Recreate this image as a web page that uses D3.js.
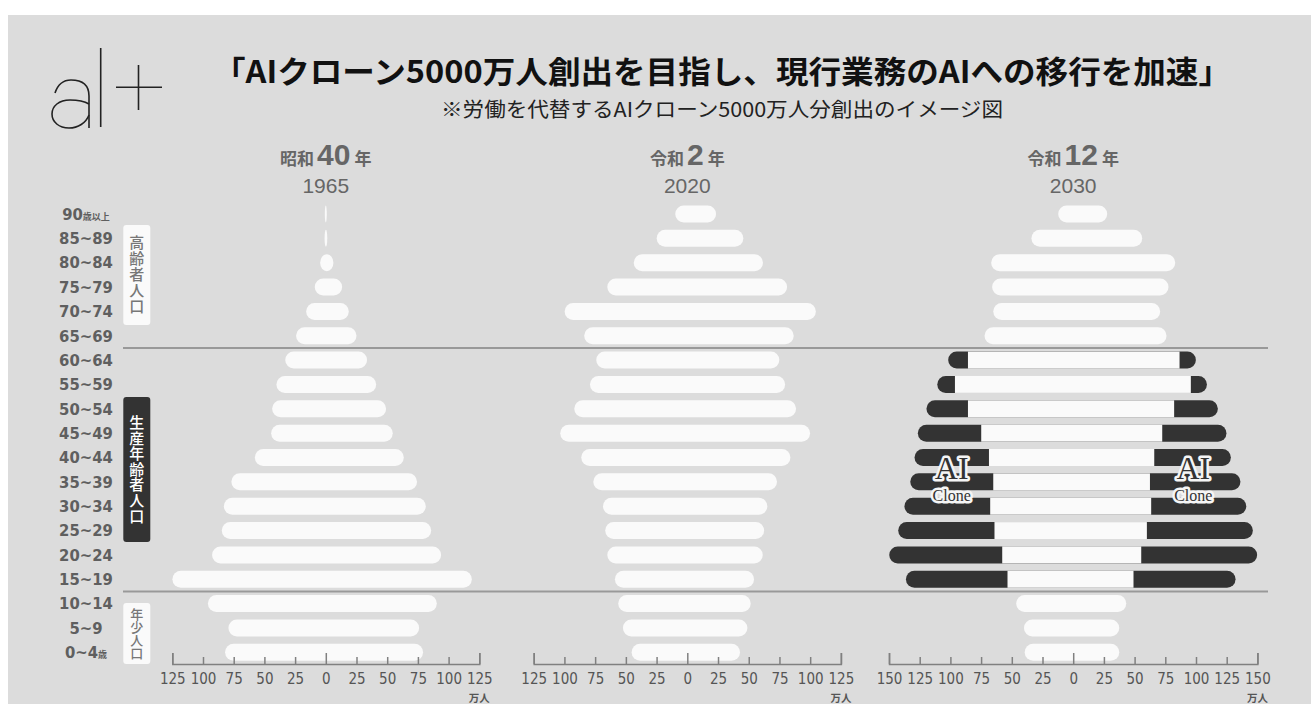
<!DOCTYPE html>
<html>
<head>
<meta charset="utf-8">
<title>AIクローン 人口ピラミッド</title>
<script src="https://d3js.org/d3.v7.min.js"></script>
<style>
  body{margin:0;background:#fff;}
  svg{display:block;}
</style>
</head>
<body>
<svg width="1311" height="704"></svg>
<script>
// 年齢階級（上から）
const ages = ["90歳以上","85~89","80~84","75~79","70~74","65~69","60~64","55~59","50~54","45~49",
              "40~44","35~39","30~34","25~29","20~24","15~19","10~14","5~9","0~4歳"];

// 万人（左・右）
const left1965  = [0.8,1.0,4.6,9.0,16.0,24.2,33.0,40.2,43.7,44.5,57.8,76.9,83.0,84.7,92.6,124.9,96.0,79.3,82.0];
const right1965 = [0.8,1.2,6.2,13.3,18.7,25.0,33.6,41.0,49.1,54.5,63.5,74.3,81.4,85.8,93.9,118.9,90.4,76.0,79.2];

const left2020  = [9.8,24.9,43.6,65.1,99.8,83.9,74.1,79.2,92.0,103.4,86.3,76.5,68.6,66.8,65.1,58.9,56.2,52.4,45.3];
const right2020 = [23.4,45.6,61.6,81.2,104.6,86.6,74.9,79.6,88.5,99.9,83.9,73.0,65.1,62.5,61.4,54.3,51.6,48.9,42.9];

const left2030  = [12.2,34.0,66.8,66.0,65.1,72.2,85.7,96.3,85.7,74.9,68.6,65.1,67.6,64.1,57.8,53.5,46.4,40.1,39.5];
const right2030 = [27.7,56.2,83.1,77.6,70.8,76.0,86.6,95.8,82.2,72.5,66.0,62.5,63.5,60.0,55.4,49.1,43.2,37.5,37.5];
// AIクローン分（生産年齢人口に上乗せ）
const cloneL2030 = [0,0,0,0,0,0,16.1,14.4,33.8,51.6,60.6,67.6,69.8,78.4,92.0,82.7,0,0,0];
const cloneR2030 = [0,0,0,0,0,0,13.3,13.1,35.6,52.3,62.4,73.7,77.4,86.3,94.4,83.1,0,0,0];

const ticks125 = [-125,-100,-75,-50,-25,0,25,50,75,100,125];
const ticks150 = [-150,-125,-100,-75,-50,-25,0,25,50,75,100,125,150];

const title = "「AIクローン5000万人創出を目指し、現行業務のAIへの移行を加速」";
const subtitle = "※労働を代替するAIクローン5000万人分創出のイメージ図";

const JP = "'Noto Sans CJK JP', sans-serif";
const NARROW = "'Liberation Sans Narrow', 'DejaVu Sans Condensed', sans-serif";
const SANS = "'Liberation Sans', Arial, sans-serif";

const panels = [
  {era:"昭和", num:"40", year:"1965", left:left1965, right:right1965, ticks:ticks125, range:[172.3,479.3]},
  {era:"令和", num:"2",  year:"2020", left:left2020, right:right2020, ticks:ticks125, range:[533.7,840.9]},
  {era:"令和", num:"12", year:"2030", left:left2030, right:right2030, cloneL:cloneL2030, cloneR:cloneR2030,
   ticks:ticks150, range:[889,1257.4]}
];

const svg = d3.select("svg");
svg.append("rect").attr("x",8).attr("y",15).attr("width",1303).attr("height",689).attr("fill","#dcdcdc");

const y = d3.scalePoint().domain(ages).range([214, 652.3]);
const barH = 17;

// ロゴ
const logo = svg.append("g").attr("fill","none").attr("stroke","#222").attr("stroke-width",1.6);
logo.append("path").attr("d","M55 93 C58 84,64 80,71 80 C83 80,89 86,89 96 L89 128");
logo.append("path").attr("d","M89 104 C84 101,77 100,70 100 C59 100,52 106,52 114 C52 122,59 128,69 128 C78 128,86 123,89 115");
logo.append("line").attr("x1",100.7).attr("x2",100.7).attr("y1",48).attr("y2",127);
logo.append("line").attr("x1",116).attr("x2",162).attr("y1",87.3).attr("y2",87.3);
logo.append("line").attr("x1",138.5).attr("x2",138.5).attr("y1",65).attr("y2",110);

// タイトル
svg.append("text").attr("x",722).attr("y",83).attr("text-anchor","middle")
  .style("font-family",JP).style("font-size","31px").style("font-weight",700).attr("fill","#111")
  .attr("textLength",1018).attr("lengthAdjust","spacingAndGlyphs").text(title);
svg.append("text").attr("x",722).attr("y",117).attr("text-anchor","middle")
  .style("font-family",JP).style("font-size","20px").attr("fill","#222")
  .attr("textLength",562).attr("lengthAdjust","spacingAndGlyphs").text(subtitle);

// 区切り線
[[5,6],[15,16]].forEach(([a,b]) => {
  const yy = (y(ages[a]) + y(ages[b])) / 2;
  svg.append("line").attr("x1",123).attr("x2",1268).attr("y1",yy).attr("y2",yy)
    .attr("stroke","#999").attr("stroke-width",2);
});

// 年齢ラベル
const ageText = svg.append("g").attr("fill","#5f5f5f").style("font-weight",700);
ages.forEach(a => {
  const m = a.match(/^([0-9~]+)(.*)$/);
  const t = ageText.append("text").attr("x",86).attr("y",y(a)).attr("dy","0.36em").attr("text-anchor","middle");
  t.append("tspan").style("font-family",NARROW).style("font-size","16.5px").text(m[1]);
  if (m[2]) t.append("tspan").style("font-family",JP).style("font-size","9px").text(m[2]);
});

// 区分ボックス（縦書き）
const groups = [
  {label:"高齢者人口", y0:225, y1:325, fill:"#fafafa", color:"#777", size:15, gap:1},
  {label:"生産年齢者人口", y0:397, y1:542, fill:"#333", color:"#fff", size:15, gap:0.6},
  {label:"年少人口", y0:603, y1:664, fill:"#fafafa", color:"#777", size:13, gap:0}
];
groups.forEach(g => {
  svg.append("rect").attr("x",123.3).attr("y",g.y0).attr("width",27).attr("height",g.y1-g.y0)
    .attr("rx",3).attr("fill",g.fill);
  svg.append("text").attr("x",136.8).attr("y",(g.y0+g.y1)/2)
    .attr("text-anchor","middle").attr("fill",g.color)
    .style("writing-mode","vertical-rl").style("text-orientation","upright")
    .style("letter-spacing",g.gap+"px")
    .style("font-family",JP).style("font-size",g.size+"px").style("font-weight",500).text(g.label);
});

// ピラミッド
panels.forEach(p => {
  const x = d3.scaleLinear().domain(d3.extent(p.ticks)).range(p.range);
  const cx = x(0);

  // 見出し
  const h = svg.append("text").attr("x",cx).attr("y",165).attr("text-anchor","middle").attr("fill","#666")
    .style("font-weight",700);
  h.append("tspan").style("font-family",JP).style("font-size","17px").text(p.era);
  h.append("tspan").attr("dx",3).style("font-family",SANS).style("font-size","30px").text(p.num);
  h.append("tspan").attr("dx",4).style("font-family",JP).style("font-size","17px").text("年");
  svg.append("text").attr("x",cx).attr("y",193).attr("text-anchor","middle").attr("fill","#666")
    .style("font-family",SANS).style("font-size","21px").text(p.year);

  const g = svg.append("g");
  ages.forEach((a,i) => {
    const L = p.left[i], R = p.right[i];
    const cL = p.cloneL ? p.cloneL[i] : 0, cR = p.cloneR ? p.cloneR[i] : 0;
    if (cL + cR > 0) {
      g.append("rect").attr("x",x(-(L+cL))).attr("y",y(a)-barH/2)
        .attr("width",x(R+cR)-x(-(L+cL))).attr("height",barH).attr("rx",barH/2).attr("fill","#333");
      g.append("rect").attr("x",x(-L)).attr("y",y(a)-barH/2)
        .attr("width",x(R)-x(-L)).attr("height",barH).attr("fill","#fafafa");
    } else {
      g.append("rect").attr("x",x(-L)).attr("y",y(a)-barH/2)
        .attr("width",x(R)-x(-L)).attr("height",barH).attr("rx",barH/2).attr("fill","#fafafa");
    }
  });

  // 軸
  const axis = d3.axisBottom(x).tickValues(p.ticks).tickFormat(d => Math.abs(d))
    .tickSize(-7).tickSizeOuter(-11).tickPadding(9);
  const ax = svg.append("g").attr("transform","translate(0,664)").call(axis)
    .attr("font-family",NARROW).attr("font-size",15);
  ax.select(".domain").attr("stroke","#808080").attr("stroke-width",1.5);
  ax.selectAll(".tick line").attr("stroke","#808080").attr("stroke-width",1.5)
    .attr("y2", d => (d === 0 || Math.abs(d) === p.ticks[p.ticks.length-1]) ? -11 : -7);
  ax.selectAll(".tick text").attr("fill","#555");
  svg.append("text").attr("x",p.range[1]).attr("y",701.5).attr("text-anchor","middle").attr("fill","#555")
    .style("font-family",JP).style("font-size","10.5px").style("font-weight",700).text("万人");
});

// AIクローン表示
[951.7, 1193.3].forEach(bx => {
  const b = svg.append("g").attr("fill","#333").attr("stroke","#f5f5f5").attr("stroke-width",5)
    .attr("stroke-linejoin","round").style("paint-order","stroke").style("font-family","'Liberation Serif', serif")
    .attr("text-anchor","middle");
  b.append("text").attr("x",bx).attr("y",479).style("font-size","32px").text("AI");
  b.append("text").attr("x",bx).attr("y",501).style("font-size","16px").text("Clone");
});
</script>
</body>
</html>
